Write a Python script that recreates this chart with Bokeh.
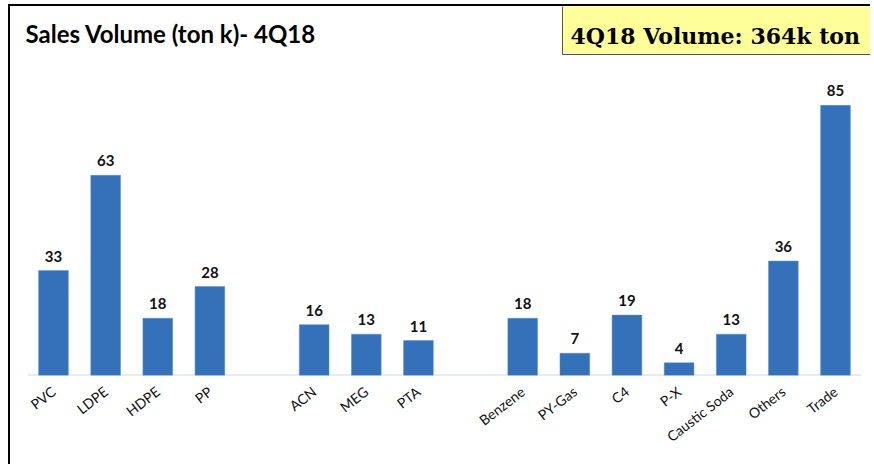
from bokeh.plotting import figure
from bokeh.models import ColumnDataSource, LabelSet, Label, Range1d, FixedTicker
from bokeh.core.properties import value
from bokeh.embed import file_html
from bokeh.resources import INLINE

# data
slots = ["PVC", "LDPE", "HDPE", "PP", "", "ACN", "MEG", "PTA", "",
         "Benzene", "PY-Gas", "C4", "P-X", "Caustic Soda", "Others", "Trade"]
products = ["PVC", "LDPE", "HDPE", "PP", "ACN", "MEG", "PTA",
            "Benzene", "PY-Gas", "C4", "P-X", "Caustic Soda", "Others", "Trade"]
volumes = [33, 63, 18, 28, 16, 13, 11, 18, 7, 19, 4, 13, 36, 85]
title_text = "Sales Volume (ton k)- 4Q18"
box_text = "4Q18  Volume: 364k ton"

positions = [i for i, s in enumerate(slots) if s]
src = ColumnDataSource(dict(x=positions, top=volumes, lab=[str(v) for v in volumes]))

n = len(slots)
p = figure(width=862, height=460, x_range=Range1d(-0.825, n - 1 + 0.71),
           y_range=Range1d(0, 116.1),
           output_backend="svg", toolbar_location=None,
           min_border_left=0, min_border_right=0, min_border_top=0, min_border_bottom=91)
p.outline_line_color = None
p.xgrid.grid_line_color = None
p.ygrid.grid_line_color = None
p.yaxis.visible = False

# baseline spanning the category slots
p.segment(x0=[-0.5], x1=[n - 0.5], y0=[0], y1=[0], line_color="#c9dbf0", line_width=2)

p.vbar(x="x", top="top", width=0.57, source=src, fill_color="#3571B9", line_color="#5b8fd0",
       line_width=0.5)

p.add_layout(LabelSet(x="x", y="top", text="lab", source=src, text_align="center",
                      text_baseline="bottom", y_offset=9, text_font=value("Lato"),
                      text_font_style="bold", text_font_size="15px", text_color="#111111"))

ax = p.xaxis[0]
ax.ticker = FixedTicker(ticks=positions)
ax.major_label_overrides = {i: s for i, s in enumerate(slots) if s}
ax.axis_line_color = None
ax.major_tick_line_color = None
ax.minor_tick_line_color = None
ax.major_label_orientation = 0.66
ax.major_label_text_font = "Lato"
ax.major_label_text_font_size = "14px"
ax.major_label_text_color = "#111111"
ax.major_label_standoff = 8

p.add_layout(Label(x=15, y=328, x_units="screen", y_units="screen", text=title_text,
                   text_font="Lato", text_font_style="bold", text_font_size="24px",
                   text_baseline="bottom", text_color="#000000"))

p.add_layout(Label(x=552, y=321, x_units="screen", y_units="screen", text=box_text,
                   text_font="DejaVu Serif", text_font_style="bold", text_font_size="22px",
                   text_baseline="bottom", text_color="#000000",
                   background_fill_color="#ffff99", border_line_color="#555555",
                   padding=dict(left=8, right=30, top=26, bottom=6)))

p.styles = {"border-left": "2px solid #000", "border-top": "2px solid #000",
            "margin-left": "8px", "margin-top": "4px"}

open("out.html", "w").write(file_html(p, INLINE))
